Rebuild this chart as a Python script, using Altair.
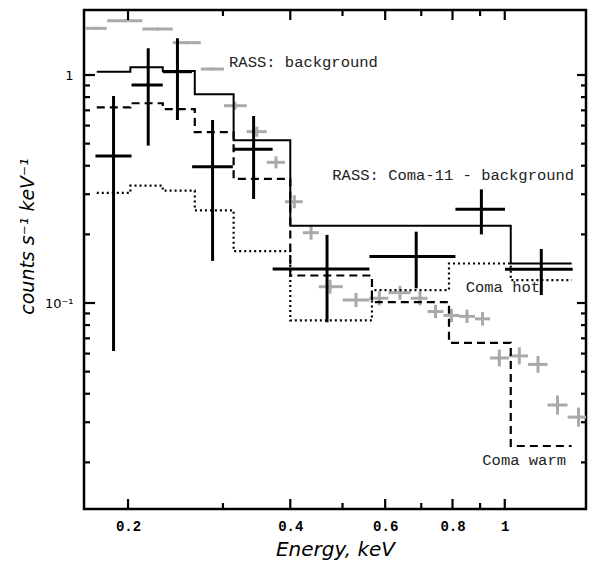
import altair as alt
import pandas as pd

# ---------------- data ----------------
# RASS: background (grey crosses)
bg_E = [0.1744, 0.1977, 0.2271, 0.2570, 0.2868, 0.3159, 0.3467, 0.3764, 0.4070, 0.4371,
        0.4741, 0.5297, 0.5852, 0.6392, 0.6962, 0.7439, 0.7966, 0.8510, 0.9094, 0.9771,
        1.0642, 1.1528, 1.2527, 1.3705]
bg_E_lo = [0.1664, 0.1830, 0.2126, 0.2421, 0.2729, 0.3014, 0.3321, 0.3618, 0.3911, 0.4219,
           0.4519, 0.5004, 0.5612, 0.6082, 0.6691, 0.7190, 0.7697, 0.8225, 0.8807, 0.9390,
           1.0182, 1.1046, 1.2004, 1.3079]
bg_E_hi = [0.1826, 0.2126, 0.2421, 0.2729, 0.3014, 0.3321, 0.3618, 0.3911, 0.4219, 0.4519,
           0.5004, 0.5612, 0.6082, 0.6691, 0.7190, 0.7697, 0.8225, 0.8807, 0.9390, 1.0182,
           1.1046, 1.2004, 1.3079, 1.4271]
bg_rate = [1.602, 1.730, 1.591, 1.386, 1.062, 0.7334, 0.5643, 0.4141, 0.2781, 0.2034,
           0.1179, 0.1031, 0.1049, 0.1110, 0.1049, 0.0918, 0.0882, 0.0874, 0.0852, 0.0574,
           0.0586, 0.0538, 0.0357, 0.0316]
bg_lo = [1.578, 1.704, 1.567, 1.365, 1.046, 0.7044, 0.5365, 0.3897, 0.2604, 0.1895,
         0.1099, 0.0961, 0.0977, 0.1034, 0.0977, 0.0858, 0.0824, 0.0817, 0.0796, 0.0527,
         0.0538, 0.0494, 0.0324, 0.0287]
bg_hi = [1.627, 1.756, 1.615, 1.407, 1.078, 0.7636, 0.5935, 0.4400, 0.2970, 0.2183,
         0.1265, 0.1106, 0.1126, 0.1191, 0.1126, 0.0982, 0.0944, 0.0935, 0.0912, 0.0625,
         0.0639, 0.0586, 0.0393, 0.0348]

# RASS: Coma-11 - background (black crosses)
coma_E = [0.188, 0.218, 0.247, 0.287, 0.342, 0.468, 0.685, 0.905, 1.169]
coma_E_lo = [0.174, 0.203, 0.232, 0.263, 0.313, 0.371, 0.561, 0.810, 1.001]
coma_E_hi = [0.203, 0.232, 0.263, 0.313, 0.371, 0.561, 0.810, 1.001, 1.337]
coma_rate = [0.441, 0.904, 1.034, 0.396, 0.472, 0.141, 0.160, 0.258, 0.1405]
coma_lo = [0.0616, 0.490, 0.635, 0.153, 0.286, 0.0823, 0.116, 0.200, 0.1084]
coma_hi = [0.809, 1.310, 1.449, 0.635, 0.661, 0.199, 0.2055, 0.315, 0.1725]

# model step histograms (bin edges, one value per bin)
model_edges = [0.175, 0.202, 0.232, 0.266, 0.314, 0.400, 0.567, 0.788, 1.026, 1.331]
model_total = [1.034, 1.081, 1.041, 0.823, 0.517, 0.218, 0.218, 0.218, 0.149]
model_warm = [0.721, 0.752, 0.709, 0.562, 0.350, 0.132, 0.101, 0.0669, 0.0236]
model_hot = [0.304, 0.327, 0.311, 0.255, 0.169, 0.0839, 0.114, 0.149, 0.126]

# annotations
label_text = ["RASS: background", "RASS: Coma-11 - background", "Coma hot", "Coma warm"]
label_E = [0.3079, 0.4787, 0.8464, 0.9086]
label_y = [1.084, 0.3463, 0.1116, 0.01948]

# axis ticks
x_label_vals = [0.2, 0.4, 0.6, 0.8, 1.0]
x_minor_vals = [0.3, 0.5, 0.7, 0.9]
y_major_vals = [0.1, 1.0]
y_minor_vals = [0.02, 0.03, 0.04, 0.05, 0.06, 0.07, 0.08, 0.09,
                0.2, 0.3, 0.4, 0.5, 0.6, 0.7, 0.8, 0.9]

# ---------------- chart ----------------
W, H = 502, 499
xscale = alt.Scale(type="log", domain=[0.1657, 1.415], nice=False)
yscale = alt.Scale(type="log", domain=[0.01249, 1.928], nice=False)

x_axis = alt.Axis(values=x_label_vals, format="~g", title="Energy, keV", ticks=False,
                  domain=False, grid=False, labelFont="Liberation Mono", labelFontSize=14,
                  labelFontWeight="bold", labelPadding=10, labelColor="black",
                  labelFlush=False, labelOverlap=False,
                  titleFont="DejaVu Sans", titleFontStyle="italic", titleFontSize=20,
                  titleFontWeight="normal", titleBaseline="alphabetic", titleY=46,
                  titleColor="black")
y_axis = alt.Axis(values=y_major_vals, labelExpr="datum.value >= 1 ? '1' : '10⁻¹'",
                  title="counts s⁻¹ keV⁻¹", ticks=False, domain=False, grid=False,
                  labelFont="DejaVu Sans", labelFontSize=13, labelPadding=11,
                  labelColor="black", labelFlush=False, labelOverlap=False,
                  titleFont="DejaVu Sans", titleFontStyle="italic", titleFontSize=19,
                  titleFontWeight="normal", titleAngle=270, titleAlign="center",
                  titleBaseline="middle", titleX=-57, titleY=226, titleColor="black")

df_bg = pd.DataFrame({"E": bg_E, "lo": bg_E_lo, "hi": bg_E_hi,
                      "r": bg_rate, "rlo": bg_lo, "rhi": bg_hi})
df_coma = pd.DataFrame({"E": coma_E, "lo": coma_E_lo, "hi": coma_E_hi,
                        "r": coma_rate, "rlo": coma_lo, "rhi": coma_hi})
df_model = pd.DataFrame({"E": model_edges,
                         "total": model_total + model_total[-1:],
                         "warm": model_warm + model_warm[-1:],
                         "hot": model_hot + model_hot[-1:]})
df_lab = pd.DataFrame({"E": label_E, "r": label_y, "t": label_text})


def X(f):
    return alt.X(f, type="quantitative", scale=xscale, axis=x_axis)


def Y(f):
    return alt.Y(f, type="quantitative", scale=yscale, axis=y_axis)


def crosses(df, color, width):
    h = alt.Chart(df).mark_rule(color=color, strokeWidth=width, clip=True).encode(
        x=X("lo"), x2="hi", y=Y("r"))
    v = alt.Chart(df).mark_rule(color=color, strokeWidth=width, clip=True).encode(
        x=X("E"), y=Y("rlo"), y2="rhi")
    return [h, v]


def step(field, dash, width):
    kw = dict(interpolate="step-after", color="black", strokeWidth=width, clip=True)
    if dash:
        kw["strokeDash"] = dash
    return alt.Chart(df_model).mark_line(**kw).encode(x=X("E"), y=Y(field))


def xticks(vals, length):
    df = pd.DataFrame({"v": vals})
    b = alt.Chart(df).mark_rule(color="black", strokeWidth=2.2).encode(
        x=X("v"), y=alt.value(H), y2=alt.value(H - length))
    t = alt.Chart(df).mark_rule(color="black", strokeWidth=2.2).encode(
        x=X("v"), y=alt.value(0), y2=alt.value(length))
    return [b, t]


def yticks(vals, length_l, length_r):
    df = pd.DataFrame({"v": vals})
    l = alt.Chart(df).mark_rule(color="black", strokeWidth=2.2).encode(
        y=Y("v"), x=alt.value(0), x2=alt.value(length_l))
    r = alt.Chart(df).mark_rule(color="black", strokeWidth=2.2).encode(
        y=Y("v"), x=alt.value(W), x2=alt.value(W - length_r))
    return [l, r]


labels = alt.Chart(df_lab).mark_text(align="left", baseline="alphabetic",
                                      font="Liberation Mono", fontSize=15.5,
                                      color="#222222").encode(x=X("E"), y=Y("r"), text="t:N")

layers = []
layers += crosses(df_bg, "#aaaaaa", 3)
layers += [step("hot", [2, 3], 2.2), step("warm", [8, 5], 2.2), step("total", None, 2)]
layers += crosses(df_coma, "black", 3)
layers += xticks(x_label_vals, 10) + xticks(x_minor_vals, 6)
layers += yticks(y_major_vals, 11, 9) + yticks(y_minor_vals, 6, 5)
layers += [labels]

chart = alt.layer(*layers).properties(
    width=W, height=H,
    background="white",
    autosize=alt.AutoSizeParams(type="none"),
    padding={"left": 76, "top": 2, "right": 4, "bottom": 52},
).configure_view(stroke="black", strokeWidth=2.5)

chart.save("out.html", embed_options={"renderer": "svg", "actions": False})
